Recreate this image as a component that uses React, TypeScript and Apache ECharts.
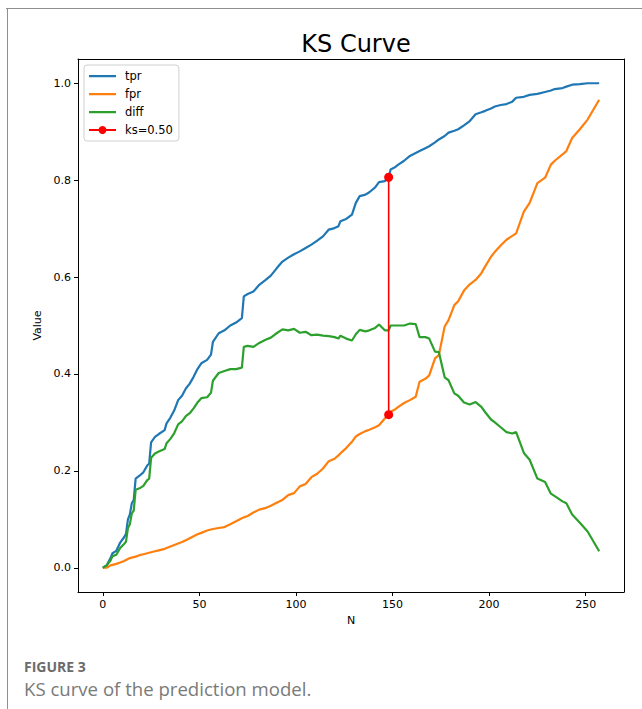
import React, { useEffect, useRef } from "react";
import * as echarts from "echarts";

const nValues = [0, 2, 4, 5, 7, 9, 11, 12, 13, 14, 15, 16, 17, 19, 21, 23, 24, 25, 27, 29, 32, 33, 35, 37, 39, 41, 43, 45, 47, 49, 51, 54, 56, 57, 60, 63, 66, 69, 72, 73, 75, 78, 81, 84, 87, 90, 93, 96, 99, 102, 105, 108, 111, 114, 117, 120, 122, 123, 126, 129, 131, 133, 136, 138, 141, 143, 146, 148, 149, 151, 153, 156, 159, 162, 164, 167, 169, 172, 174, 177, 179, 182, 184, 187, 190, 193, 196, 198, 201, 203, 206, 209, 212, 214, 218, 221, 225, 229, 232, 234, 238, 240, 243, 247, 251, 257];

const tprValues = [0, 0.005, 0.02, 0.03, 0.035, 0.052, 0.063, 0.07, 0.1, 0.11, 0.133, 0.14, 0.184, 0.19, 0.197, 0.211, 0.215, 0.259, 0.27, 0.276, 0.284, 0.298, 0.31, 0.325, 0.346, 0.355, 0.37, 0.38, 0.394, 0.41, 0.422, 0.429, 0.44, 0.466, 0.484, 0.49, 0.5, 0.506, 0.515, 0.56, 0.565, 0.57, 0.584, 0.593, 0.603, 0.618, 0.632, 0.64, 0.647, 0.653, 0.66, 0.667, 0.675, 0.684, 0.698, 0.701, 0.705, 0.715, 0.72, 0.729, 0.753, 0.767, 0.77, 0.775, 0.785, 0.796, 0.798, 0.806, 0.822, 0.826, 0.832, 0.84, 0.85, 0.856, 0.86, 0.866, 0.87, 0.878, 0.884, 0.891, 0.898, 0.902, 0.905, 0.913, 0.922, 0.936, 0.94, 0.943, 0.948, 0.952, 0.955, 0.957, 0.962, 0.97, 0.972, 0.976, 0.978, 0.982, 0.985, 0.988, 0.99, 0.993, 0.997, 0.998, 1.0, 1.0];

const fprValues = [0, 0, 0.005, 0.006, 0.008, 0.011, 0.014, 0.016, 0.018, 0.02, 0.021, 0.022, 0.023, 0.026, 0.028, 0.03, 0.031, 0.032, 0.034, 0.036, 0.039, 0.041, 0.044, 0.047, 0.05, 0.053, 0.057, 0.061, 0.065, 0.069, 0.072, 0.077, 0.079, 0.08, 0.082, 0.084, 0.09, 0.096, 0.102, 0.104, 0.107, 0.114, 0.12, 0.123, 0.128, 0.134, 0.14, 0.15, 0.154, 0.168, 0.173, 0.187, 0.194, 0.205, 0.22, 0.225, 0.232, 0.236, 0.247, 0.26, 0.271, 0.276, 0.282, 0.285, 0.29, 0.294, 0.308, 0.316, 0.322, 0.326, 0.332, 0.34, 0.346, 0.353, 0.384, 0.39, 0.397, 0.432, 0.439, 0.498, 0.511, 0.542, 0.55, 0.572, 0.585, 0.594, 0.608, 0.622, 0.642, 0.652, 0.665, 0.677, 0.685, 0.69, 0.735, 0.753, 0.794, 0.805, 0.832, 0.84, 0.853, 0.86, 0.887, 0.905, 0.925, 0.966];

const ksN = 148;
const ksLow = 0.316;
const ksHigh = 0.806;
const ksLabel = "ks=0.50";

const xTicks = [0, 50, 100, 150, 200, 250];
const yTicks = [0, 0.2, 0.4, 0.6, 0.8, 1.0];

const FONT = "DejaVu Sans";
const LINE_ICON = "path://M0,0h0.01v0.01h-0.01z M0,4h27v2.2h-27z M26.99,9.99h0.01v0.01h-0.01z";

export default function App() {
  const ref = useRef<HTMLDivElement>(null);
  useEffect(() => {
    if (!ref.current) return;
    const chart = echarts.init(ref.current, null, { renderer: "svg" });
    const tprData = nValues.map((n, i) => [n, tprValues[i]]);
    const fprData = nValues.map((n, i) => [n, fprValues[i]]);
    const diffData = nValues.map((n, i) => [n, +(tprValues[i] - fprValues[i]).toFixed(4)]);
    const xMin = -12.85;
    const xMax = 269.85;
    const yMin = -0.05;
    const yMax = 1.05;
    const axisLineStyle = { color: "#000", width: 1 };
    chart.setOption({
      animation: false,
      backgroundColor: "#fff",
      title: {
        text: "KS Curve",
        left: 351,
        top: 27,
        textAlign: "center",
        textStyle: { fontFamily: FONT, fontSize: 24, fontWeight: "normal", color: "#000" },
      },
      legend: {
        orient: "vertical",
        left: 84,
        top: 65,
        padding: [4, 6, 4, 4],
        itemGap: 4,
        itemWidth: 27,
        itemHeight: 10,
        borderColor: "#d0d0d0",
        borderWidth: 1,
        borderRadius: 3,
        backgroundColor: "rgba(255,255,255,0.8)",
        textStyle: { fontFamily: FONT, fontSize: 11.5, color: "#000", lineHeight: 14, padding: [0, 0, 0, 4] },
        data: [
          { name: "tpr", icon: LINE_ICON },
          { name: "fpr", icon: LINE_ICON },
          { name: "diff", icon: LINE_ICON },
          { name: ksLabel },
        ],
      },
      grid: { left: 78, top: 59, width: 546, height: 533 },
      xAxis: [
        {
          type: "value",
          min: xMin,
          max: xMax,
          position: "bottom",
          name: "N",
          nameLocation: "middle",
          nameGap: 22,
          nameTextStyle: { fontFamily: FONT, fontSize: 11, color: "#000" },
          axisLine: { show: true, onZero: false, lineStyle: axisLineStyle },
          axisTick: { show: true, length: 4, customValues: xTicks, lineStyle: { color: "#000" } },
          axisLabel: { customValues: xTicks, margin: 7, fontFamily: FONT, fontSize: 11, color: "#000" },
          splitLine: { show: false },
        },
        {
          type: "value",
          min: xMin,
          max: xMax,
          position: "top",
          axisLine: { show: true, onZero: false, lineStyle: axisLineStyle },
          axisTick: { show: false },
          axisLabel: { show: false },
          splitLine: { show: false },
        },
      ],
      yAxis: [
        {
          type: "value",
          min: yMin,
          max: yMax,
          position: "left",
          name: "Value",
          nameLocation: "middle",
          nameGap: 31,
          nameTextStyle: { fontFamily: FONT, fontSize: 11, color: "#000" },
          axisLine: { show: true, onZero: false, lineStyle: axisLineStyle },
          axisTick: { show: true, length: 4, customValues: yTicks, lineStyle: { color: "#000" } },
          axisLabel: {
            customValues: yTicks,
            margin: 7,
            fontFamily: FONT,
            fontSize: 11,
            color: "#000",
            formatter: (v: number) => v.toFixed(1),
          },
          splitLine: { show: false },
        },
        {
          type: "value",
          min: yMin,
          max: yMax,
          position: "right",
          axisLine: { show: true, onZero: false, lineStyle: axisLineStyle },
          axisTick: { show: false },
          axisLabel: { show: false },
          splitLine: { show: false },
        },
      ],
      series: [
        {
          name: "tpr",
          type: "line",
          data: tprData,
          symbol: "none",
          lineStyle: { color: "#1f77b4", width: 2.2 },
          itemStyle: { color: "#1f77b4" },
        },
        {
          name: "fpr",
          type: "line",
          data: fprData,
          symbol: "none",
          lineStyle: { color: "#ff7f0e", width: 2.2 },
          itemStyle: { color: "#ff7f0e" },
        },
        {
          name: "diff",
          type: "line",
          data: diffData,
          symbol: "none",
          lineStyle: { color: "#2ca02c", width: 2.2 },
          itemStyle: { color: "#2ca02c" },
        },
        {
          name: ksLabel,
          type: "line",
          data: [
            [ksN, ksLow],
            [ksN, ksHigh],
          ],
          symbol: "circle",
          symbolSize: 9,
          lineStyle: { color: "#ff0000", width: 1.6 },
          itemStyle: { color: "#ff0000" },
        },
      ],
      graphic: [
        { type: "line", shape: { x1: 6, y1: 8.5, x2: 642, y2: 8.5 }, style: { stroke: "#8f8f8f", lineWidth: 1 } },
        { type: "line", shape: { x1: 7.5, y1: 8, x2: 7.5, y2: 709 }, style: { stroke: "#8f8f8f", lineWidth: 1 } },
        {
          type: "text",
          left: 24,
          top: 659,
          style: { text: "FIGURE 3", font: "bold 14px 'Open Sans'", fill: "#6b6b6b" },
        },
        {
          type: "text",
          left: 24,
          top: 679,
          style: { text: "KS curve of the prediction model.", font: "18.6px 'Open Sans'", fill: "#7a7a7a" },
        },
      ],
    });
    return () => chart.dispose();
  }, []);
  return (
    <div
      ref={ref}
      style={{ position: "fixed", left: 0, top: 0, width: 642, height: 709, background: "#fff" }}
    />
  );
}
